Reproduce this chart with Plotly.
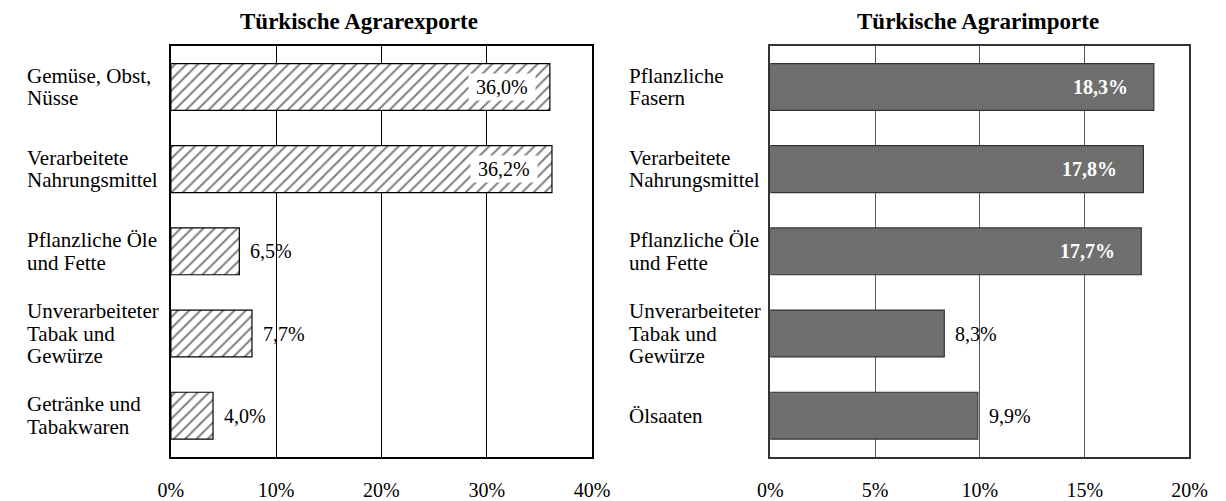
import plotly.graph_objects as go

# Daten
export_kategorien = ["Gemüse, Obst,<br>Nüsse", "Verarbeitete<br>Nahrungsmittel",
                     "Pflanzliche Öle<br>und Fette", "Unverarbeiteter<br>Tabak und<br>Gewürze",
                     "Getränke und<br>Tabakwaren"]
export_anteile = [36.0, 36.2, 6.5, 7.7, 4.0]

import_kategorien = ["Pflanzliche<br>Fasern", "Verarbeitete<br>Nahrungsmittel",
                     "Pflanzliche Öle<br>und Fette", "Unverarbeiteter<br>Tabak und<br>Gewürze",
                     "Ölsaaten"]
import_anteile = [18.3, 17.8, 17.7, 8.3, 9.9]

titel = ["Türkische Agrarexporte", "Türkische Agrarimporte"]
FONT = "Liberation Serif, Times New Roman, serif"
W, H = 1226, 501


def pct(v):
    return f"{v:.1f}".replace(".", ",") + "%"


fig = go.Figure()

fig.add_trace(go.Bar(
    y=export_kategorien, x=export_anteile, orientation="h", width=0.57,
    xaxis="x", yaxis="y",
    marker=dict(color="white", line=dict(color="black", width=1.2),
                pattern=dict(shape="/", size=8, solidity=0.25, fgcolor="black", bgcolor="white")),
    hoverinfo="x+y",
))
fig.add_trace(go.Bar(
    y=import_kategorien, x=import_anteile, orientation="h", width=0.57,
    xaxis="x2", yaxis="y2",
    marker=dict(color="#6f6f6f", line=dict(color="#333333", width=1.2)),
    hoverinfo="x+y",
))

annotations = []
# Werte-Beschriftungen
for kats, werte, xr, yr, xmax, hatch in [
    (export_kategorien, export_anteile, "x", "y", 40, True),
    (import_kategorien, import_anteile, "x2", "y2", 20, False),
]:
    for k, v in zip(kats, werte):
        if v > xmax / 2:
            if hatch:
                annotations.append(dict(
                    x=v, y=k, xref=xr, yref=yr, text="\u00a0" + pct(v) + "\u00a0",
                    showarrow=False, xanchor="right", xshift=-14, bgcolor="white", borderpad=2,
                    font=dict(family=FONT, size=20, color="black")))
            else:
                annotations.append(dict(
                    x=v, y=k, xref=xr, yref=yr, text="<b>" + pct(v) + "</b>",
                    showarrow=False, xanchor="right", xshift=-24,
                    font=dict(family=FONT, size=20, color="white")))
        else:
            annotations.append(dict(
                x=v, y=k, xref=xr, yref=yr, text=pct(v),
                showarrow=False, xanchor="left", xshift=9,
                font=dict(family=FONT, size=20, color="black")))

# Kategorie-Beschriftungen links ausgerichtet, zeilenweise (enger Zeilenabstand)
ZEILE = 22.5
for kats, yr, xp in [(export_kategorien, "y", 12 / W), (import_kategorien, "y2", 630 / W)]:
    for k in kats:
        zeilen = k.split("<br>")
        n = len(zeilen)
        for i, z in enumerate(zeilen):
            annotations.append(dict(
                x=xp, y=k, xref="paper", yref=yr, text=z, showarrow=False,
                xanchor="left", yanchor="middle", align="left",
                yshift=((n - 1) / 2 - i) * ZEILE,
                font=dict(family=FONT, size=21, color="black")))

# Titel
for t, xp in zip(titel, [355 / W, 990 / W]):
    annotations.append(dict(
        x=xp, y=1 - 22 / H, xref="paper", yref="paper", text="<b>" + t + "</b>",
        showarrow=False, xanchor="center", yanchor="middle",
        font=dict(family=FONT, size=23, color="black")))

ydom = [1 - 468 / H, 1 - 47 / H]
achse_x = dict(showgrid=True, zeroline=False, showline=True, mirror=True,
               linewidth=1.5, ticks="", ticksuffix="%", ticklabelstandoff=14,
               tickfont=dict(family=FONT, size=20, color="black"))
achse_y = dict(showticklabels=False, showgrid=False, ticks="", showline=True,
               mirror=True, linewidth=1.5, autorange="reversed", type="category")

fig.update_layout(
    width=W, height=H,
    margin=dict(l=0, r=0, t=0, b=0),
    paper_bgcolor="white", plot_bgcolor="white",
    showlegend=False,
    xaxis=dict(achse_x, domain=[162 / W, 594 / W], range=[0, 40], dtick=10,
               gridcolor="black", gridwidth=1, linecolor="black", anchor="y"),
    yaxis=dict(achse_y, domain=ydom, linecolor="black", anchor="x"),
    xaxis2=dict(achse_x, domain=[777 / W, 1207 / W], range=[0, 20], dtick=5,
                gridcolor="#5a5a5a", gridwidth=1, linecolor="#333333", anchor="y2"),
    yaxis2=dict(achse_y, domain=ydom, linecolor="#333333", anchor="x2"),
    annotations=annotations,
)

fig.write_html("out.html", config={"displayModeBar": False},
               post_script="document.body.style.margin='0';")
